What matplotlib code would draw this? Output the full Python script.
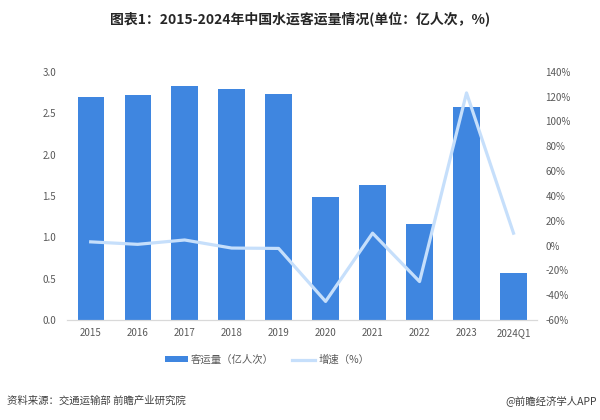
import matplotlib
matplotlib.use("Agg")
import matplotlib.pyplot as plt
from matplotlib.ticker import FuncFormatter

plt.rcParams['font.family'] = ['Noto Sans CJK SC', 'DejaVu Sans']

categories = ["2015", "2016", "2017", "2018", "2019", "2020", "2021", "2022", "2023", "2024Q1"]
volume = [2.70, 2.72, 2.83, 2.79, 2.73, 1.49, 1.63, 1.16, 2.58, 0.57]
growth = [3, 1, 4.5, -2, -2.3, -45, 10, -29, 123, 10]

bar_color = "#3F86E0"
line_color = "#C6DFFB"
text_color = "#595959"

fig = plt.figure(figsize=(6, 4.2), dpi=100)
ax = fig.add_axes([0.112, 0.238, 0.783, 0.591])
x = list(range(len(categories)))
bars = ax.bar(x, volume, width=0.56, color=bar_color, label="客运量（亿人次）", zorder=2)
ax.set_ylim(0, 3.0)
ax.set_yticks([0, 0.5, 1.0, 1.5, 2.0, 2.5, 3.0])
ax.yaxis.set_major_formatter(FuncFormatter(lambda v, p: f"{v:.1f}"))
ax.set_xlim(-0.5, len(categories) - 0.5)
ax.set_xticks(x)
ax.set_xticklabels(categories)

ax2 = ax.twinx()
ln, = ax2.plot(x, growth, color=line_color, linewidth=2.3, label="增速（%）", zorder=3)
ax2.set_ylim(-60, 140)
ax2.set_yticks(range(-60, 141, 20))
ax2.yaxis.set_major_formatter(FuncFormatter(lambda v, p: f"{int(v)}%"))

for a in (ax, ax2):
    for s in ("top", "left", "right"):
        a.spines[s].set_visible(False)
    a.spines["bottom"].set_color("#D9D9D9")
    a.tick_params(length=0, labelsize=7, colors=text_color)
ax.tick_params(axis="y", pad=8)
ax2.tick_params(axis="y", pad=6)
ax.tick_params(axis="x", pad=6)

fig.text(0.5, 0.955, "图表1：2015-2024年中国水运客运量情况(单位：亿人次，%)",
         ha="center", va="center", fontsize=10, fontweight="bold", color="#262626")

fig.legend(handles=[bars, ln], labels=["客运量（亿人次）", "增速（%）"],
           loc="center", bbox_to_anchor=(0.445, 0.143), ncol=2, frameon=False,
           fontsize=7.5, handlelength=2.2, handleheight=0.5, handletextpad=0.3,
           columnspacing=1.8, labelcolor=text_color)

fig.text(0.012, 0.045, "资料来源：交通运输部 前瞻产业研究院", ha="left", va="center",
         fontsize=7.5, color="#404040")
fig.text(0.995, 0.045, "@前瞻经济学人APP", ha="right", va="center",
         fontsize=7.5, color="#404040")

fig.savefig("out.png", dpi=100)
